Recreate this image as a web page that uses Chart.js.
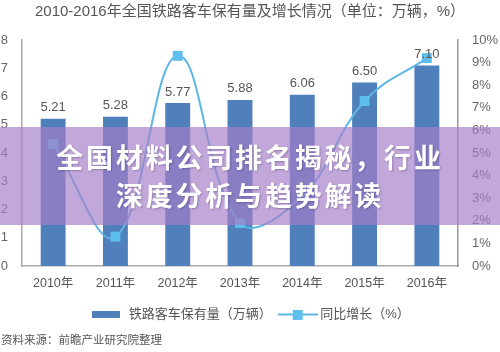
<!DOCTYPE html>
<html>
<head>
<meta charset="utf-8">
<script src="https://cdn.jsdelivr.net/npm/chart.js@4.4.1/dist/chart.umd.min.js"></script>
<style>
  html, body { margin: 0; padding: 0; background: #fff; }
  #wrap { position: relative; width: 500px; height: 352px; overflow: hidden; }
  canvas { display: block; }
  #banner {
    position: absolute; left: 0; top: 127px; width: 500px; height: 98px;
    background: rgba(165, 125, 200, 0.68);
    display: flex; flex-direction: column; justify-content: center; align-items: center;
    color: #fff; font-family: "Noto Sans CJK SC", sans-serif; font-weight: 700;
    font-size: 27px; letter-spacing: 2.8px; line-height: 38px;
    text-shadow: 1px 1px 2px rgba(60, 40, 90, 0.35);
  }
</style>
</head>
<body>
<div id="wrap">
  <canvas id="c" width="500" height="352"></canvas>
  <div id="banner"><div>全国材料公司排名揭秘，行业</div><div>深度分析与趋势解读</div></div>
</div>
<script>
const categories = ["2010年", "2011年", "2012年", "2013年", "2014年", "2015年", "2016年"];
const stockValues = [5.21, 5.28, 5.77, 5.88, 6.06, 6.50, 7.10];
const growthValues = [5.4, 1.3, 9.3, 1.9, 3.1, 7.3, 9.2];
const seriesNames = ["铁路客车保有量（万辆）", "同比增长（%）"];
const titleText = "2010-2016年全国铁路客车保有量及增长情况（单位：万辆，%）";
const sourceText = "资料来源：前瞻产业研究院整理";

const FONT = "'Liberation Sans', 'Noto Sans CJK SC', sans-serif";
const BAR_COLOR = "#4f80bb";
const LINE_COLOR = "#5db6e4";
const POINT_COLOR = "#5cbfec";

function makeBarIcon() {
  const c = document.createElement('canvas');
  c.width = 28; c.height = 7;
  const x = c.getContext('2d');
  x.fillStyle = BAR_COLOR; x.fillRect(0, 0, 28, 7);
  return c;
}
function makeLineIcon() {
  const c = document.createElement('canvas');
  c.width = 40; c.height = 10;
  const x = c.getContext('2d');
  x.strokeStyle = LINE_COLOR; x.lineWidth = 2;
  x.beginPath(); x.moveTo(0, 5); x.lineTo(40, 5); x.stroke();
  x.fillStyle = POINT_COLOR; x.fillRect(15, 0, 10, 10);
  return c;
}
const barIcon = makeBarIcon();
const lineIcon = makeLineIcon();

const barLabels = {
  id: 'barLabels',
  afterDatasetsDraw(chart) {
    const ctx = chart.ctx;
    const meta = chart.getDatasetMeta(0);
    ctx.save();
    ctx.font = "13px " + FONT;
    ctx.fillStyle = "#555";
    ctx.textAlign = 'center';
    ctx.textBaseline = 'middle';
    meta.data.forEach((el, i) => {
      ctx.fillText(stockValues[i].toFixed(2), el.x, el.y - 11);
    });
    ctx.restore();
  },
  afterDraw(chart) {
    const ctx = chart.ctx;
    ctx.save();
    ctx.font = "11.5px " + FONT;
    ctx.fillStyle = "#555";
    ctx.textAlign = 'left';
    ctx.textBaseline = 'middle';
    ctx.fillText(sourceText, 1, 341);
    ctx.restore();
  }
};

new Chart(document.getElementById('c'), {
  data: {
    labels: categories,
    datasets: [
      {
        type: 'bar', label: seriesNames[0], data: stockValues, yAxisID: 'y',
        backgroundColor: BAR_COLOR, barPercentage: 0.4, categoryPercentage: 1, order: 1
      },
      {
        type: 'line', label: seriesNames[1], data: growthValues, yAxisID: 'y1',
        borderColor: LINE_COLOR, borderWidth: 2, tension: 0.4,
        pointStyle: 'rect', pointRadius: 7, pointBackgroundColor: POINT_COLOR,
        pointBorderWidth: 0, order: 0
      }
    ]
  },
  options: {
    responsive: false,
    animation: false,
    layout: { padding: { left: 0, right: 0, top: 0, bottom: 21 } },
    plugins: {
      tooltip: { enabled: false },
      title: {
        display: true, text: titleText, color: "#555",
        font: { size: 15, family: FONT, weight: 'normal' },
        padding: { top: 3, bottom: 19 }
      },
      legend: {
        position: 'bottom',
        labels: {
          usePointStyle: true, pointStyleWidth: 32, boxHeight: 10,
          padding: 10, color: "#555",
          font: { size: 13, family: FONT },
          generateLabels(chart) {
            return chart.data.datasets.map((ds, i) => ({
              text: ds.label, datasetIndex: i, hidden: false,
              pointStyle: i === 0 ? barIcon : lineIcon,
              fillStyle: i === 0 ? BAR_COLOR : LINE_COLOR,
              strokeStyle: 'transparent', lineWidth: 0, fontColor: "#555"
            }));
          }
        }
      }
    },
    scales: {
      x: {
        grid: { display: false, drawTicks: false },
        border: { display: true, color: "#aaa", width: 1.5 },
        ticks: { color: "#555", padding: 10, font: { size: 12.5, family: FONT } },
        afterFit(s) { s.height = 32; }
      },
      y: {
        position: 'left', min: 0, max: 8,
        grid: { display: false, drawTicks: false },
        border: { display: true, color: "#aaa", width: 1.5 },
        ticks: { stepSize: 1, color: "#666", padding: 14, font: { size: 13, family: FONT } },
        afterFit(s) { s.width = 22; }
      },
      y1: {
        position: 'right', min: 0, max: 10,
        grid: { display: false, drawTicks: false },
        border: { display: true, color: "#999", width: 1.5 },
        ticks: { stepSize: 1, color: "#666", padding: 14, font: { size: 13, family: FONT },
                 callback: v => v + "%" },
        afterFit(s) { s.width = 42; }
      }
    }
  },
  plugins: [barLabels]
});
</script>
</body>
</html>
